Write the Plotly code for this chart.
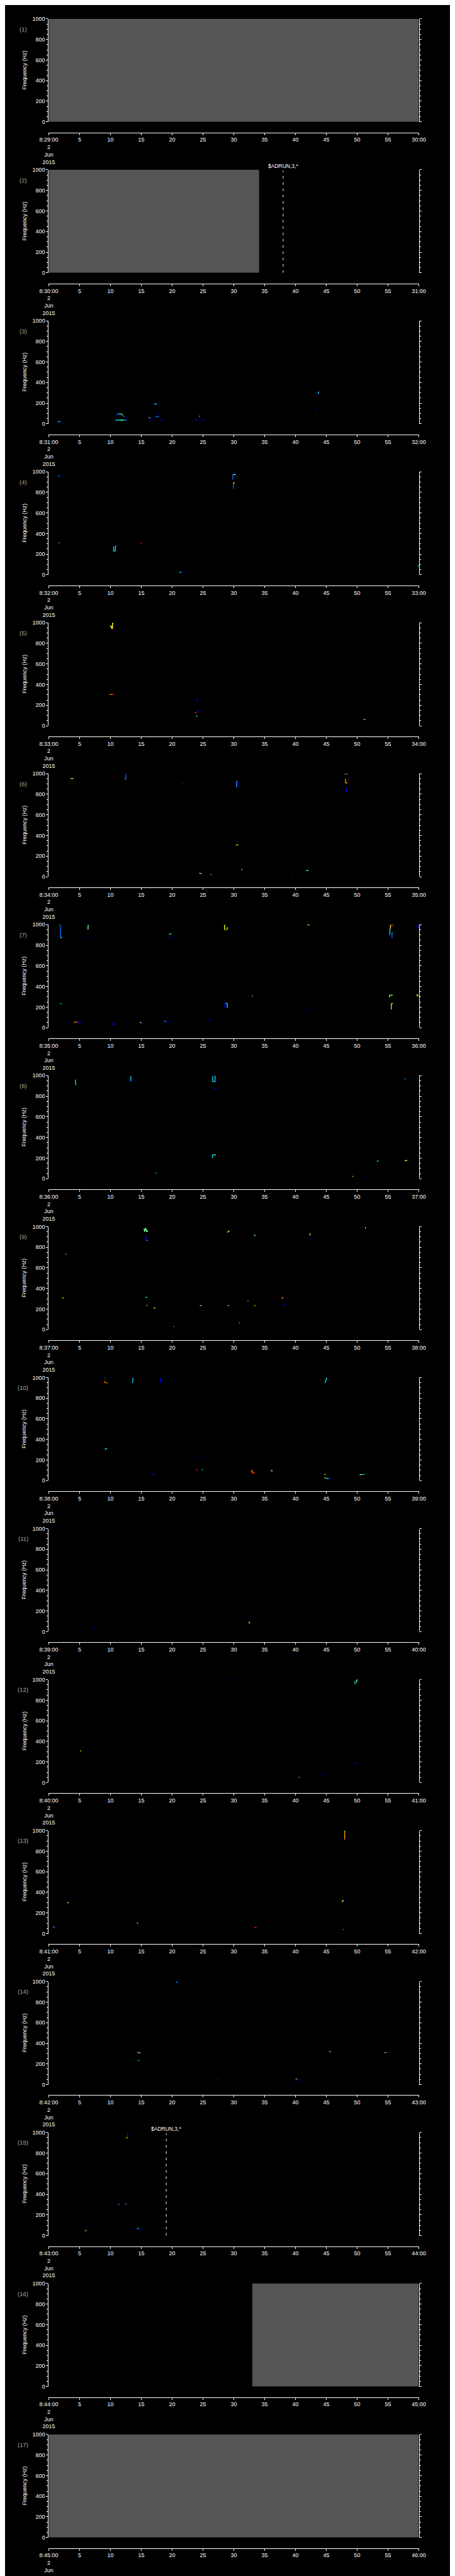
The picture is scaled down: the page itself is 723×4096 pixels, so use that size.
import plotly.graph_objects as go

# ---------------- data ----------------
REF_W, REF_H = 1024, 5802
OUT_W, OUT_H = 723, 4096
N_PANELS = 17
START_MINUTE = [29 + i for i in range(N_PANELS)]      # 8:29 ... 8:45
TIME_TICKS = [0, 5, 10, 15, 20, 25, 30, 35, 40, 45, 50, 55, 60]
FREQ_RANGE = [0, 1000]
TIME_RANGE = [0, 60]

# grey "no data" blocks
GREY_PANELS = [1, 2, 16, 17]
GREY_START = [0, 0, 33.0, 0]
GREY_END = [60, 34.1, 60, 60]

# $ADRUN markers
ADRUN_PANELS = [2, 15]
ADRUN_TIMES = [38.0, 19.05]
ADRUN_TEXT = "$ADRUN,3,*"

# colour keys (jet-like)
COL = {'b': '#0000ff', 'lb': '#0070ff', 'c': '#00d8ff', 'g': '#70ff90',
       'y': '#ffff00', 'o': '#ff9a00', 'r': '#ff2a00', 'dr': '#b00000'}

# tracks: (times [s], freqs [Hz], colour key)
P3_TRACKS = [
    ([1.45, 1.7], [21, 21], 'c'), ([1.7, 2.0], [20, 20], 'lb'),
    ([8.8, 9.0], [36, 36], 'b'),
    ([10.8, 11.5], [36, 36], 'c'), ([11.5, 12.2], [36, 36], 'g'), ([12.2, 12.7], [36, 36], 'lb'),
    ([10.95, 11.1], [78, 92], 'b'), ([11.1, 11.7], [95, 98], 'c'), ([11.7, 11.95], [98, 85], 'y'),
    ([11.95, 12.3], [85, 66], 'lb'),
    ([17.1, 17.5], [193, 193], 'c'), ([17.7, 17.8], [103, 92], 'b'), ([17.3, 17.9], [69, 69], 'lb'),
    ([16.2, 16.4], [60, 58], 'g'), ([16.4, 16.8], [56, 50], 'b'), ([16.3, 16.45], [23, 23], 'b'),
    ([18.1, 18.4], [36, 36], 'b'), ([24.35, 24.5], [74, 74], 'c'),
    ([23.7, 23.85, 24.0], [32, 36, 36], 'b'), ([24.8, 25.0, 25.2], [38, 37, 32], 'b'),
    ([43.7, 43.75], [289, 313], 'c'), ([43.75, 44.0], [313, 316], 'b'),
    ([43.2, 43.4], [146, 138], 'b'),
]
P4_TRACKS = [
    ([1.5, 1.7], [960, 960], 'c'), ([1.7, 1.9], [960, 960], 'b'),
    ([1.6, 1.75], [707, 707], 'b'), ([1.6, 1.75], [311, 311], 'o'),
    ([30.0, 30.3], [995, 995], 'b'), ([29.85, 30.35], [972, 972], 'g'),
    ([29.85, 29.85], [972, 922], 'lb'),
    ([29.95, 30.2], [893, 893], 'o'), ([29.95, 29.95], [893, 876], 'o'), ([29.95, 29.95], [876, 835], 'lb'),
    ([10.52, 10.52, 10.8, 10.8, 10.96], [273, 231, 231, 277, 281], 'c'),
    ([14.9, 14.9, 15.1], [300, 306, 306], 'dr'),
    ([21.2, 21.5], [23, 23], 'c'), ([21.5, 21.8], [23, 23], 'b'),
    ([38.7, 38.85], [316, 316], 'b'), ([38.85, 38.95], [188, 188], 'b'),
    ([59.85, 60.0], [94, 80], 'c'),
]
P5_TRACKS = [
    ([9.93, 10.17, 10.2], [967, 964, 942], 'y'), ([10.2, 10.33], [942, 942], 'o'),
    ([10.33, 10.33, 10.48], [942, 995, 995], 'y'),
    ([9.9, 10.2], [304, 304], 'o'), ([10.2, 10.5], [304, 304], 'r'),
    ([23.97, 24.1, 24.2], [243, 258, 271], 'b'),
    ([23.7, 24.0], [127, 127], 'r'), ([24.0, 24.1, 24.3], [130, 145, 145], 'b'),
    ([23.9, 24.1], [94, 94], 'g'),
    ([51.0, 51.2], [62, 62], 'o'), ([51.2, 51.4], [62, 62], 'c'),
]
P6_TRACKS = [
    ([3.5, 3.75], [952, 952], 'o'), ([3.75, 4.0], [952, 952], 'g'),
    ([12.45, 12.5, 12.5], [950, 955, 1000], 'lb'), ([12.35, 12.45], [948, 948], 'y'),
    ([21.6, 21.7], [913, 913], 'r'), ([21.7, 21.8], [913, 913], 'b'),
    ([30.45, 30.45], [927, 868], 'lb'), ([30.5, 30.5], [927, 870], 'lb'), ([30.45, 30.65], [927, 925], 'lb'),
    ([47.9, 48.2], [995, 995], 'r'), ([48.2, 48.5], [998, 998], 'c'),
    ([48.1, 48.15, 48.4], [947, 911, 911], 'o'),
    ([48.2, 48.25, 48.4], [865, 825, 825], 'b'),
    ([30.35, 30.5], [305, 308], 'y'), ([30.5, 30.75], [310, 310], 'o'),
    ([24.4, 24.8], [35, 30], 'g'),
    ([26.2, 26.35], [21, 21], 'o'), ([26.35, 26.6], [21, 21], 'b'),
    ([31.2, 31.35], [71, 71], 'y'), ([31.35, 31.5], [71, 71], 'b'),
    ([39.3, 39.5], [35, 35], 'b'),
    ([41.7, 41.9], [61, 61], 'c'), ([41.9, 42.1], [61, 61], 'y'),
]
P7_TRACKS = [
    ([1.65, 1.85], [997, 997], 'r'), ([1.9, 1.9], [997, 870], 'lb'), ([1.9, 2.15], [872, 875], 'c'),
    ([6.39, 6.39], [1000, 955], 'g'), ([6.2, 6.3, 6.3], [973, 973, 950], 'r'),
    ([6.25, 6.45], [875, 872], 'b'),
    ([19.55, 19.6, 19.9], [900, 911, 911], 'c'), ([19.55, 19.8], [878, 865], 'b'),
    ([28.5, 28.5, 28.6], [1000, 956, 950], 'y'), ([28.6, 28.8], [949, 946], 'r'),
    ([28.9, 28.9, 29.05], [950, 969, 969], 'g'),
    ([41.9, 42.3], [998, 998], 'y'),
    ([55.4, 55.4], [997, 960], 'y'), ([55.3, 55.3], [960, 900], 'c'), ([55.45, 55.9], [997, 997], 'r'),
    ([55.2, 55.3], [897, 897], 'b'), ([55.65, 55.65], [922, 870], 'lb'), ([55.65, 55.75], [922, 925], 'c'),
    ([59.8, 59.9, 59.9], [960, 965, 1000], 'b'),
    ([1.85, 2.1], [235, 233], 'c'), ([1.95, 2.05], [72, 72], 'b'),
    ([4.1, 4.4], [54, 54], 'o'), ([4.4, 4.7], [54, 54], 'r'), ([4.7, 5.2], [54, 46], 'b'),
    ([10.2, 10.5, 10.8], [38, 36, 33], 'b'),
    ([14.8, 15.0], [51, 51], 'y'), ([15.0, 15.4], [46, 46], 'b'),
    ([18.7, 18.9], [66, 62], 'c'), ([18.9, 19.4], [59, 59], 'b'),
    ([25.8, 26.1], [67, 67], 'b'),
    ([28.54, 28.54, 28.65], [194, 232, 237], 'b'), ([28.65, 28.9, 28.93, 28.93], [237, 237, 232, 194], 'c'),
    ([32.95, 33.0], [293, 305], 'r'), ([33.0, 33.1], [312, 315], 'c'),
    ([42.0, 42.2], [171, 171], 'b'),
    ([55.26, 55.26], [297, 316], 'y'), ([55.26, 55.77], [316, 316], 'g'),
    ([55.55, 55.55], [178, 235], 'g'), ([55.55, 55.8], [235, 235], 'y'),
    ([59.7, 59.75, 60.0], [326, 310, 310], 'y'),
]
P8_TRACKS = [
    ([4.25, 4.35], [962, 962], 'b'), ([4.3, 4.35, 4.4], [962, 935, 908], 'c'),
    ([13.3, 13.3], [998, 946], 'c'), ([13.1, 13.3], [946, 946], 'b'),
    ([26.57, 26.57, 26.8, 26.96, 26.96], [998, 944, 941, 944, 998], 'c'),
    ([26.96, 27.15], [998, 998], 'r'), ([26.45, 26.57], [941, 941], 'r'),
    ([26.7, 27.0], [871, 871], 'b'),
    ([57.7, 57.75], [973, 965], 'c'), ([57.75, 57.9], [965, 957], 'b'),
    ([26.55, 26.55, 26.7], [199, 231, 231], 'c'), ([26.7, 27.1], [231, 231], 'g'),
    ([17.3, 17.5], [54, 54], 'c'), ([49.2, 49.4], [23, 23], 'o'),
    ([53.2, 53.5], [171, 171], 'c'),
    ([57.7, 57.9], [173, 175], 'g'), ([57.9, 58.1], [177, 177], 'y'),
]
P9_TRACKS = [
    ([15.45, 15.55, 15.65, 15.75, 15.85, 15.95, 16.08], [980, 950, 980, 985, 950, 960, 952], 'g'),
    ([15.6, 15.75, 15.8, 16.0], [910, 910, 870, 866], 'b'), ([15.85, 16.05], [866, 866], 'c'),
    ([28.9, 29.1], [943, 951], 'o'), ([29.1, 29.3], [951, 959], 'y'),
    ([33.3, 33.5], [921, 910], 'g'),
    ([42.35, 42.35], [933, 915], 'y'), ([42.35, 42.35], [915, 907], 'b'),
    ([51.35, 51.35], [995, 982], 'y'),
    ([2.7, 2.9], [733, 733], 'c'), ([2.2, 2.4], [307, 307], 'y'), ([6.1, 6.2], [279, 279], 'b'),
    ([15.65, 15.85, 16.0], [315, 315, 307], 'c'), ([15.8, 16.0], [234, 234], 'g'),
    ([17.0, 17.3], [210, 210], 'y'), ([24.5, 24.8], [234, 234], 'g'), ([29.0, 29.25], [234, 234], 'g'),
    ([32.2, 32.4], [280, 280], 'c'), ([33.3, 33.5], [234, 234], 'y'),
    ([37.8, 37.9, 38.0], [300, 311, 311], 'o'), ([38.0, 38.2], [311, 311], 'b'),
    ([37.9, 38.2], [233, 249], 'b'),
    ([30.85, 30.95], [66, 66], 'y'), ([20.2, 20.4], [30, 30], 'r'), ([2.25, 2.35], [57, 57], 'b'),
]
P10_TRACKS = [
    ([9.05, 9.2], [998, 998], 'c'), ([9.05, 9.05, 9.3], [970, 950, 950], 'r'), ([9.3, 9.5], [950, 950], 'y'),
    ([13.56, 13.6, 13.7], [947, 960, 1000], 'c'),
    ([18.05, 18.1, 18.2], [947, 960, 1000], 'b'),
    ([44.8, 44.85, 45.1], [947, 960, 1000], 'c'),
    ([9.15, 9.2, 9.5], [298, 311, 311], 'c'),
    ([24.85, 25.0], [225, 225], 'b'), ([23.9, 24.1], [107, 98], 'r'), ([24.8, 25.0], [107, 107], 'c'),
    ([16.8, 17.2], [61, 61], 'b'),
    ([32.8, 33.0, 33.0], [96, 96, 74], 'o'), ([33.0, 33.4], [74, 74], 'r'),
    ([36.0, 36.3], [97, 95], 'g'), ([44.7, 44.9], [61, 61], 'y'),
    ([44.7, 45.0], [25, 25], 'o'), ([45.0, 45.4], [22, 20], 'c'), ([45.4, 45.7], [17, 17], 'b'),
    ([50.4, 50.8], [57, 61], 'g'), ([50.8, 51.2], [61, 61], 'c'),
]
P11_TRACKS = [
    ([7.3, 7.5], [46, 46], 'b'),
    ([32.4, 32.5], [95, 88], 'y'), ([32.5, 32.6], [88, 79], 'g'),
]
P12_TRACKS = [
    ([29.95, 30.3], [997, 997], 'b'),
    ([49.65, 49.65], [951, 988], 'c'), ([49.9, 49.95, 50.1], [970, 998, 998], 'g'),
    ([5.1, 5.25], [308, 308], 'y'), ([5.25, 5.4], [174, 174], 'b'),
    ([40.5, 40.7], [51, 51], 'c'), ([44.3, 44.5], [77, 80], 'b'), ([49.7, 50.1], [190, 192], 'b'),
]
P13_TRACKS = [
    ([47.97, 47.97], [997, 911], 'o'), ([47.95, 48.1], [997, 997], 'y'), ([47.7, 47.8, 47.97], [902, 907, 911], 'b'),
    ([47.6, 47.65, 47.8], [306, 319, 319], 'y'), ([47.8, 48.0], [319, 319], 'b'),
    ([47.7, 47.8], [38, 38], 'c'), ([3.0, 3.2], [299, 299], 'y'),
    ([0.7, 0.9], [64, 64], 'o'), ([0.9, 1.1], [64, 64], 'b'),
    ([14.3, 14.4, 14.5], [108, 100, 97], 'c'), ([33.3, 33.7], [59, 59], 'r'),
]
P14_TRACKS = [
    ([20.6, 20.7], [983, 990], 'b'), ([20.7, 20.8], [990, 1000], 'c'),
    ([14.35, 14.6], [312, 312], 'o'), ([14.6, 14.9], [309, 306], 'c'),
    ([14.45, 14.7], [233, 233], 'c'), ([27.3, 27.5], [51, 51], 'b'),
    ([40.0, 40.3], [53, 53], 'o'), ([40.3, 40.8], [48, 43], 'b'),
    ([45.5, 45.6], [326, 318], 'g'), ([45.6, 45.8], [314, 314], 'r'), ([45.8, 46.0], [314, 314], 'b'),
    ([54.4, 54.6], [311, 311], 'o'), ([54.6, 54.8], [311, 311], 'c'),
]
P15_TRACKS = [
    ([12.78, 12.78], [1000, 950], 'b'), ([12.55, 12.75], [950, 950], 'y'),
    ([11.3, 11.45], [305, 300], 'c'),
    ([12.35, 12.55], [305, 305], 'o'), ([12.6, 12.8], [303, 297], 'b'),
    ([5.8, 5.95], [52, 52], 'r'), ([5.95, 6.1], [47, 47], 'y'),
    ([14.3, 14.6], [69, 69], 'c'), ([14.6, 15.05], [65, 51], 'b'),
]
TRACKS = {3: P3_TRACKS, 4: P4_TRACKS, 5: P5_TRACKS, 6: P6_TRACKS, 7: P7_TRACKS,
          8: P8_TRACKS, 9: P9_TRACKS, 10: P10_TRACKS, 11: P11_TRACKS, 12: P12_TRACKS,
          13: P13_TRACKS, 14: P14_TRACKS, 15: P15_TRACKS}

# ---------------- layout geometry (reference pixels) ----------------
PANEL_TOP0 = 24.0
PANEL_STEP = 341.3
PLOT_H = 233.0
XAXIS_OFFSET = 257.0
PLOT_L, PLOT_R = 80.0, 944.0

FONT = "Liberation Sans"
FS = 9


def py(yref):
    return 1 - yref / REF_H


def px(xref):
    return xref / REF_W


fig = go.Figure()
layout = dict(
    width=OUT_W, height=OUT_H,
    margin=dict(l=0, r=0, t=0, b=0),
    paper_bgcolor='black', plot_bgcolor='black',
    showlegend=False,
    font=dict(family=FONT, size=FS, color='white'),
)
annotations = []

for i in range(N_PANELS):
    n = i + 1
    sfx = '' if n == 1 else str(n)
    xr, yr = 'x' + sfx, 'y' + sfx
    top = PANEL_TOP0 + i * PANEL_STEP
    bot = top + PLOT_H
    m = START_MINUTE[i]
    ticktext = [f"8:{m:02d}:00<br>2<br>Jun<br>2015"] + [str(t) for t in TIME_TICKS[1:-1]] + [f"{m + 1:02d}:00"]

    layout['xaxis' + sfx] = dict(
        domain=[px(PLOT_L), px(PLOT_R)], range=TIME_RANGE, anchor='free',
        position=py(top + XAXIS_OFFSET),
        tickmode='array', tickvals=TIME_TICKS, ticktext=ticktext,
        ticks='outside', ticklen=3, tickwidth=1, tickcolor='white',
        showline=True, linecolor='white', linewidth=1,
        showgrid=False, zeroline=False, fixedrange=True,
        tickfont=dict(family=FONT, size=FS, color='white'),
    )
    layout['yaxis' + sfx] = dict(
        domain=[py(bot), py(top)], range=FREQ_RANGE, anchor=xr,
        tickmode='linear', tick0=0, dtick=200,
        ticks='outside', ticklen=3, tickwidth=1, tickcolor='white',
        minor=dict(dtick=50, tick0=0, ticks='outside', ticklen=2, tickcolor='white', showgrid=False),
        showline=True, mirror='ticks', linecolor='white', linewidth=1,
        showgrid=False, zeroline=False, fixedrange=True,
        tickfont=dict(family=FONT, size=FS, color='white'),
    )

    # grey no-data block
    if n in GREY_PANELS:
        k = GREY_PANELS.index(n)
        x0, x1 = GREY_START[k], GREY_END[k]
        fig.add_trace(go.Scatter(
            x=[x0, x1, x1, x0, x0], y=[FREQ_RANGE[0], FREQ_RANGE[0], FREQ_RANGE[1], FREQ_RANGE[1], FREQ_RANGE[0]],
            mode='lines', fill='toself', fillcolor='#555555', line=dict(width=0, color='#555555'),
            xaxis=xr, yaxis=yr, hoverinfo='skip'))

    # spectral tracks
    for ts, fs, c in TRACKS.get(n, []):
        fig.add_trace(go.Scatter(x=ts, y=fs, mode='lines',
                                 line=dict(color=COL[c], width=1.4),
                                 xaxis=xr, yaxis=yr, hoverinfo='skip'))

    # ADRUN dashed marker
    if n in ADRUN_PANELS:
        t = ADRUN_TIMES[ADRUN_PANELS.index(n)]
        fig.add_trace(go.Scatter(x=[t, t], y=[FREQ_RANGE[0], FREQ_RANGE[1] - 8], mode='lines',
                                 line=dict(color='white', width=1, dash='4px,6px'),
                                 xaxis=xr, yaxis=yr, hoverinfo='skip'))
        annotations.append(dict(x=t, xref=xr, y=py(top - 8), yref='paper', text=ADRUN_TEXT,
                                showarrow=False, xanchor='center', yanchor='middle',
                                font=dict(family=FONT, size=8.5, color='white')))

    # y title and panel number
    annotations.append(dict(x=px(23), xref='paper', y=py(top + PLOT_H / 2), yref='paper',
                            text='Frequency (Hz)', textangle=-90, showarrow=False,
                            xanchor='center', yanchor='middle',
                            font=dict(family=FONT, size=FS, color='white')))
    annotations.append(dict(x=px(20.5), xref='paper', y=py(top + 23), yref='paper',
                            text=f'({n})', showarrow=False, xanchor='center', yanchor='middle',
                            font=dict(family=FONT, size=9.5, color='#a8a8a8')))

layout['annotations'] = annotations
fig.update_layout(**layout)
fig.write_html("out.html")
